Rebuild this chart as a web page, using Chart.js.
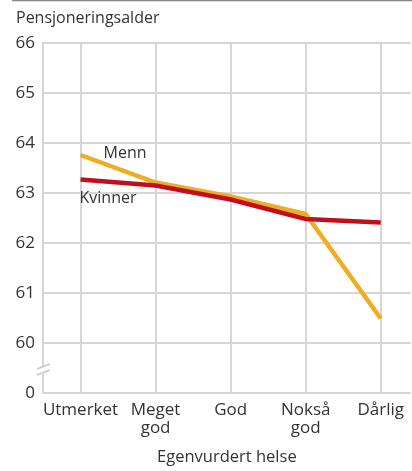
<!DOCTYPE html>
<html>
<head>
<meta charset="utf-8">
<script src="https://cdn.jsdelivr.net/npm/chart.js@4"></script>
<style>
  html, body { margin: 0; padding: 0; background: #fff; }
  #wrap { width: 412px; height: 471px; position: relative; }
</style>
</head>
<body>
<div id="wrap"><canvas id="chart" width="412" height="471"></canvas></div>
<script>
const categories = ["Utmerket", ["Meget", "god"], "God", ["Nokså", "god"], "Dårlig"];
const menn = [63.76, 63.21, 62.93, 62.58, 60.49];
const kvinner = [63.27, 63.15, 62.87, 62.48, 62.41];
const yTicks = [59, 60, 61, 62, 63, 64, 65, 66];

const FONT = "'Open Sans', 'DejaVu Sans', sans-serif";
const TXT = "#333";
const GRID = "#d6d6d6";

// tekst og brudd-tegn
const extras = {
    id: "extras",
    afterDraw(c) {
        const ctx = c.ctx;
        const x = c.scales.x, y = c.scales.y;
        ctx.save();
        // linje øverst
        ctx.strokeStyle = "#888";
        ctx.lineWidth = 1.5;
        ctx.beginPath(); ctx.moveTo(12, 0.5); ctx.lineTo(412, 0.5); ctx.stroke();

        ctx.fillStyle = TXT;
        ctx.font = "16px " + FONT;
        ctx.textBaseline = "middle";
        ctx.textAlign = "left";
        ctx.fillText("Pensjoneringsalder", 16, 18);

        // serienavn
        ctx.fillText("Menn", x.getPixelForValue(0) + 23, y.getPixelForValue(menn[0]) - 2);
        ctx.fillText("Kvinner", x.getPixelForValue(0) - 1, y.getPixelForValue(kvinner[0]) + 19);

        // brudd på y-aksen
        const bx = c.chartArea.left, by = y.getPixelForValue(59.46);
        ctx.fillStyle = "#fff";
        ctx.fillRect(bx - 3, by - 4, 6, 8);
        ctx.strokeStyle = "#c8c8c8";
        ctx.lineWidth = 1.5;
        ctx.beginPath();
        ctx.moveTo(bx - 6, by - 1); ctx.lineTo(bx + 7, by - 6);
        ctx.moveTo(bx - 6, by + 5); ctx.lineTo(bx + 7, by);
        ctx.stroke();
        ctx.restore();
    }
};

new Chart(document.getElementById("chart").getContext("2d"), {
    type: "line",
    data: {
        datasets: [
            {
                label: "Kvinner",
                data: kvinner.map((v, i) => ({ x: i, y: v })),
                borderColor: "#c00f1b",
                borderWidth: 4.5,
                pointRadius: 0,
                fill: false,
                tension: 0
            },
            {
                label: "Menn",
                data: menn.map((v, i) => ({ x: i, y: v })),
                borderColor: "#f0ac22",
                borderWidth: 4.5,
                pointRadius: 0,
                fill: false,
                tension: 0
            }
        ]
    },
    options: {
        responsive: false,
        animation: false,
        layout: { padding: { top: 43, left: 0, right: 0, bottom: 0 } },
        plugins: { legend: { display: false }, tooltip: { enabled: false } },
        scales: {
            x: {
                type: "linear",
                min: -0.5,
                max: 4.4,
                afterBuildTicks: s => { s.ticks = categories.map((c, i) => ({ value: i })); },
                afterFit: s => { s.height = 78; },
                border: { display: false },
                grid: { color: GRID, lineWidth: 2, drawTicks: false },
                ticks: {
                    color: TXT,
                    font: { size: 17, family: FONT, lineHeight: 1.05 },
                    padding: 8,
                    maxRotation: 0,
                    autoSkip: false,
                    callback: (v) => categories[v]
                },
                title: {
                    display: true,
                    text: "Egenvurdert helse",
                    color: TXT,
                    font: { size: 16.5, family: FONT },
                    padding: { top: 2 }
                }
            },
            y: {
                min: 59,
                max: 66,
                afterBuildTicks: s => { s.ticks = yTicks.map(v => ({ value: v })); },
                afterFit: s => { s.width = 43; },
                border: { display: true, color: GRID, width: 2 },
                grid: { color: GRID, lineWidth: 2, drawTicks: false },
                ticks: {
                    color: TXT,
                    font: { size: 17, family: FONT },
                    padding: 8,
                    callback: v => v === 59 ? "0" : v
                }
            }
        }
    },
    plugins: [extras]
});
</script>
</body>
</html>
